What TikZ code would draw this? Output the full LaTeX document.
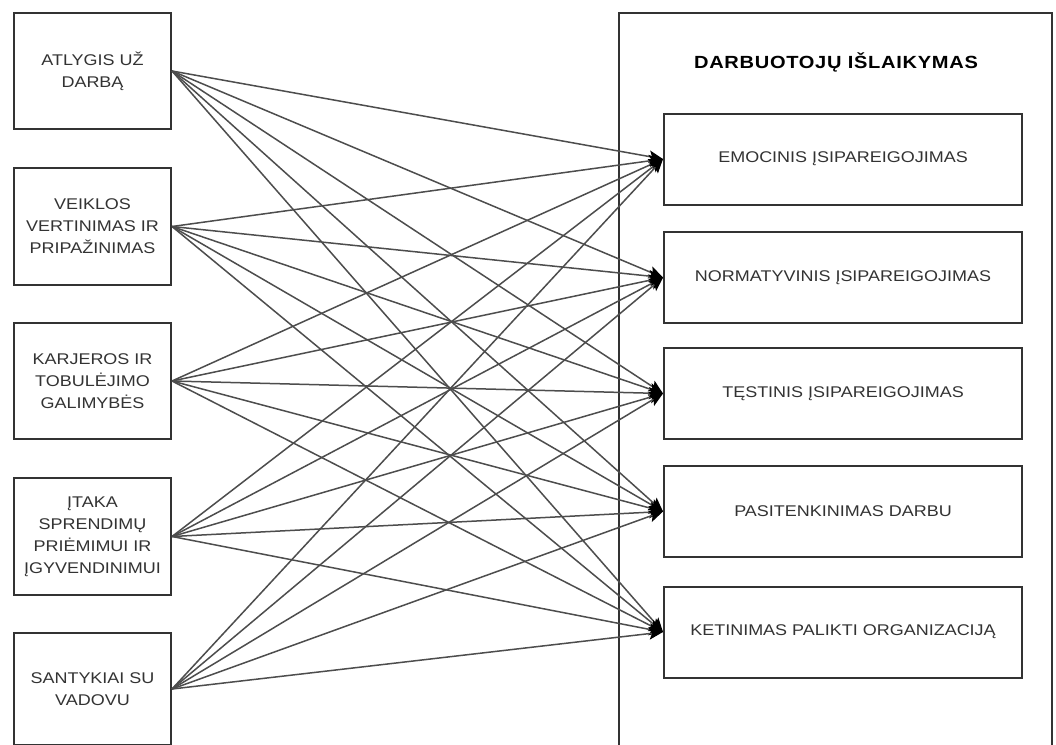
\documentclass[tikz,border=0pt]{standalone}
\usepackage{fontspec}
\setmainfont{Liberation Sans}
\newfontfamily\labfont{Liberation Sans}[FakeStretch=1.16]
\newfontfamily\ttlfont{Liberation Sans}[FakeStretch=1.14,LetterSpace=4]
\usetikzlibrary{arrows.meta}
\definecolor{boxc}{HTML}{333333}
\definecolor{txt}{HTML}{333333}
\definecolor{linec}{HTML}{4d4d4d}
\begin{document}
\begin{tikzpicture}[x=1pt,y=-1pt,
  src/.style={draw=boxc, line width=2pt, minimum width=157pt, inner sep=0pt, align=center,
    font=\labfont\fontsize{15.5}{22}\selectfont, text=txt},
  tgt/.style={draw=boxc, line width=2pt, minimum width=358pt, minimum height=91pt, inner sep=0pt,
    font=\labfont\fontsize{15.5}{22}\selectfont, text=txt},
  bigbox/.style={draw=boxc, line width=1.6pt, minimum width=433pt, minimum height=770pt, inner sep=0pt},
  conn/.style={draw=linec, line width=1.5pt, -{Stealth[length=14pt,width=12pt,inset=3pt,fill=black,color=black]}}]
\useasboundingbox (0,0) rectangle (1056,744);
\clip (0,0) rectangle (1056,744);
\fill[white] (0,0) rectangle (1056,744);

\node[bigbox] (ret) at (835.5,398) {};
\node[font=\ttlfont\bfseries\fontsize{17.6}{20}\selectfont, text=black] (title) at (836,62) {DARBUOTOJŲ IŠLAIKYMAS};

\node[src, minimum height=116pt] (a1) at (92.5,71) {ATLYGIS UŽ\\DARBĄ};
\node[src, minimum height=117pt] (a2) at (92.5,226.5) {VEIKLOS\\VERTINIMAS IR\\PRIPAŽINIMAS};
\node[src, minimum height=116pt] (a3) at (92.5,381) {KARJEROS IR\\TOBULĖJIMO\\GALIMYBĖS};
\node[src, minimum height=117pt] (a4) at (92.5,536.5) {ĮTAKA\\SPRENDIMŲ\\PRIĖMIMUI IR\\ĮGYVENDINIMUI};
\node[src, minimum height=112pt] (a5) at (92.5,689) {SANTYKIAI SU\\VADOVU};

\node[tgt] (b1) at (843,159) {EMOCINIS ĮSIPAREIGOJIMAS};
\node[tgt] (b2) at (843,277.5) {NORMATYVINIS ĮSIPAREIGOJIMAS};
\node[tgt] (b3) at (843,393.5) {TĘSTINIS ĮSIPAREIGOJIMAS};
\node[tgt] (b4) at (843,511.5) {PASITENKINIMAS DARBU};
\node[tgt] (b5) at (843,632) {KETINIMAS PALIKTI ORGANIZACIJĄ};

\foreach \s in {a1,a2,a3,a4,a5}
  \foreach \t in {b1,b2,b3,b4,b5}
    \draw[conn] (\s.east) -- (\t.west);
\end{tikzpicture}
\end{document}
